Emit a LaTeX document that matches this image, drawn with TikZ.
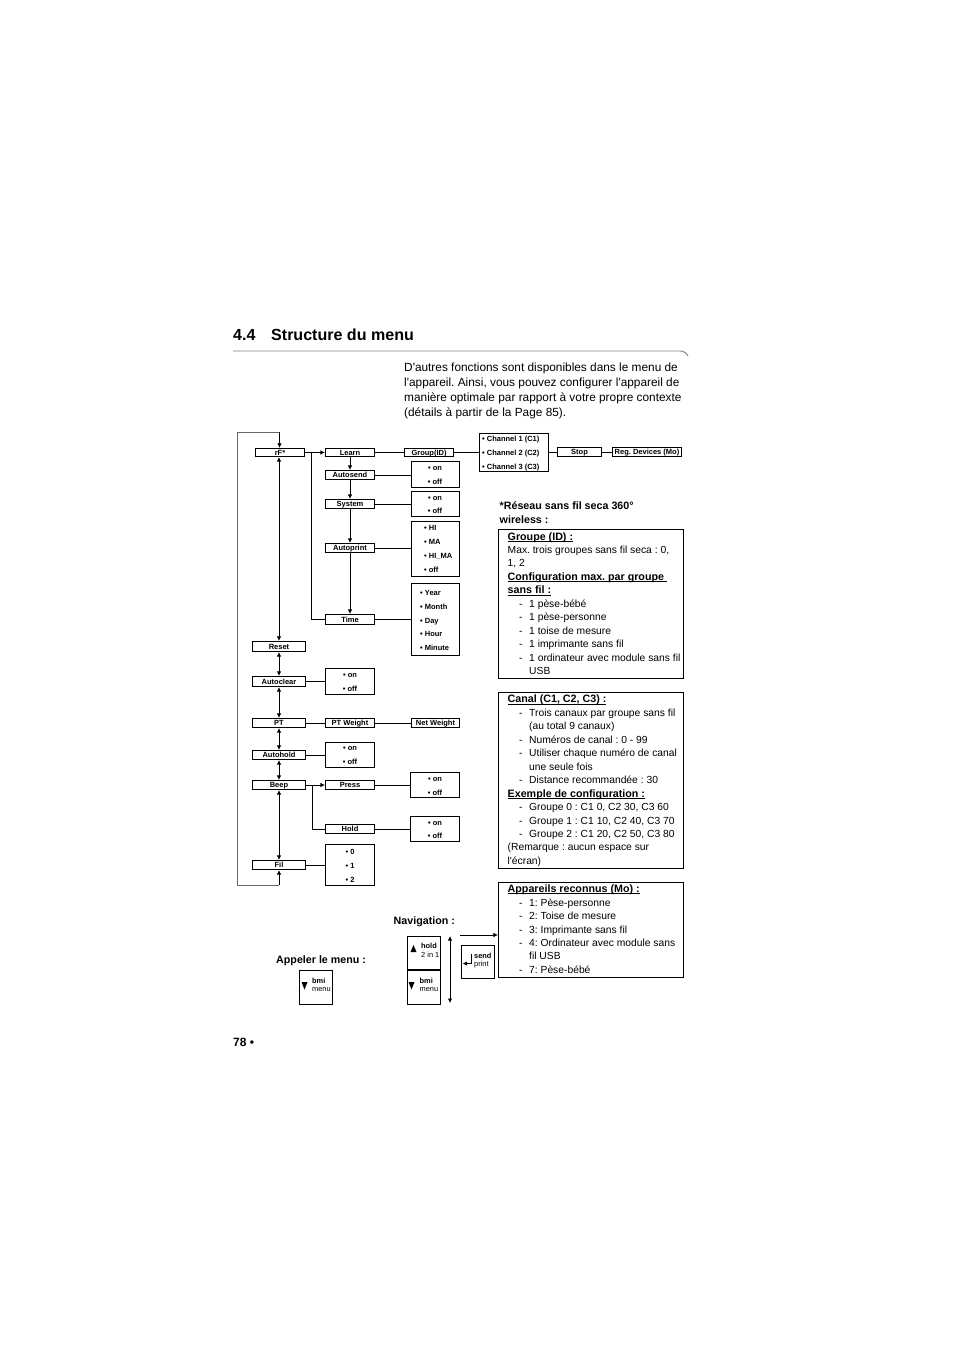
\documentclass[tikz,border=0pt]{standalone}
\usepackage{fontspec}
\setmainfont{Liberation Sans}[Ligatures=TeXOff]
\usetikzlibrary{arrows.meta}
\tikzset{
  x=1pt,y=-1pt,
  menubox/.style={draw,line width=0.9pt,inner sep=0pt,text height=5.6pt,text depth=0pt,font=\fontsize{7.5}{8}\selectfont\bfseries},
  listitem/.style={anchor=base,inner sep=0pt,font=\fontsize{7.5}{8}\selectfont\bfseries},
  link/.style={line width=0.8pt},
  arrowlink/.style={line width=0.8pt,-{Latex[length=4.5pt,width=4.5pt]}},
  bothlink/.style={line width=0.8pt,{Latex[length=4.5pt,width=4.5pt]}-{Latex[length=4.5pt,width=4.5pt]}},
  looplink/.style={line width=0.9pt,draw=black!60},
  frame/.style={draw,line width=0.9pt,inner sep=0pt},
  introtext/.style={anchor=base west,inner sep=0pt,font=\fontsize{11.85}{13}\selectfont},
  bodytext/.style={anchor=base west,inner sep=0pt,font=\fontsize{10.3}{13}\selectfont},
  boldtext/.style={anchor=base west,inner sep=0pt,font=\fontsize{10.7}{13}\selectfont\bfseries},
  keytop/.style={anchor=base west,inner sep=0pt,font=\fontsize{7.4}{8}\selectfont\bfseries},
  keybot/.style={anchor=base west,inner sep=0pt,font=\fontsize{7.4}{8}\selectfont},
  triangleup/.style={fill=black,draw=none},
}
\newcommand{\bx}[6]{\node[menubox,minimum width=#4-#3-0.8,minimum height=#6-#5-0.8] (#1) at ({(#3+#4)/2},{(#5+#6)/2}) {#2};}
\newcommand{\fr}[5]{\node[frame,minimum width=#3-#2-0.8,minimum height=#5-#4-0.8] (#1) at ({(#2+#3)/2},{(#4+#5)/2}) {};}
\newcommand{\li}[3]{\node[listitem] at (#1,#2) {• #3};}
\newcommand{\lw}[3]{\node[listitem,anchor=base west] at (#1,#2) {• #3};}
\newcommand{\intr}[3]{\node[introtext] at (#1,#2) {#3};}
\newcommand{\bt}[3]{\node[bodytext] at (#1,#2) {#3};}
\newcommand{\bo}[3]{\node[boldtext] at (#1,#2) {#3};}
\newcommand{\ulin}[3]{\node[boldtext] at (#1,#2) {\underline{\smash{#3}}};}
\begin{document}
\begin{tikzpicture}
\frenchspacing
\useasboundingbox (0,0) rectangle (954,1347);
\fill[white] (0,0) rectangle (954,1347);
% heading
\node[anchor=base west,inner sep=0pt,font=\fontsize{16.05}{18}\selectfont\bfseries] (headnum) at (233,340) {4.4};
\node[anchor=base west,inner sep=0pt,font=\fontsize{16.05}{18}\selectfont\bfseries] (headtxt) at (271,340) {Structure du menu};
\draw[line width=0.9pt,black!50] (233,351) -- (680,351) .. controls (684,351) and (686,353) .. (688,356);
\intr{404}{371.5}{D'autres fonctions sont disponibles dans le menu de}
\intr{404}{386.5}{l'appareil. Ainsi, vous pouvez configurer l'appareil de}
\intr{404}{401.5}{manière optimale par rapport à votre propre contexte}
\intr{404}{416.5}{(détails à partir de la Page 85).}
% main column
\bx{rf}{rF*}{255}{305}{448}{457}
\bx{reset}{Reset}{252}{306}{641}{652}
\bx{autoclear}{Autoclear}{252}{306}{676}{687}
\bx{pt}{PT}{252}{306}{718}{728}
\bx{autohold}{Autohold}{252}{306}{750}{760}
\bx{beep}{Beep}{252}{306}{780}{790}
\bx{fil}{Fil}{252}{306}{860}{870}
% second column
\bx{learn}{Learn}{325}{375}{448}{457}
\bx{autosend}{Autosend}{325}{375}{470}{480}
\bx{system}{System}{325}{375}{499}{509}
\bx{autoprint}{Autoprint}{325}{375}{543}{553}
\bx{time}{Time}{325}{375}{614}{625}
\bx{ptw}{PT Weight}{325}{375}{718}{728}
\bx{press}{Press}{325}{375}{780}{790}
\bx{hold}{Hold}{325}{375}{824}{834}
\bx{group}{Group(ID)}{404}{454}{448}{457}
\bx{netw}{Net Weight}{411}{460}{718}{728}
\bx{stop}{Stop}{557}{602}{447}{457}
\bx{reg}{Reg. Devices (Mo)}{612}{682}{447}{457}
% option boxes
\fr{chan}{479}{549}{433}{472}
\lw{482}{441}{Channel 1 (C1)}
\lw{482}{455}{Channel 2 (C2)}
\lw{482}{469}{Channel 3 (C3)}
\fr{o1}{411}{460}{461}{488}
\li{435}{470}{on}\li{435}{484}{off}
\fr{o2}{411}{460}{491}{517}
\li{435}{500}{on}\li{435}{513}{off}
\fr{o3}{411}{460}{521}{577}
\lw{424}{530}{HI}\lw{424}{544}{MA}\lw{424}{558}{HI\_MA}\lw{424}{572}{off}
\fr{o4}{411}{460}{583}{656}
\lw{420}{595}{Year}\lw{420}{609}{Month}\lw{420}{623}{Day}\lw{420}{636}{Hour}\lw{420}{650}{Minute}
\fr{o5}{325}{375}{668}{695}
\li{350}{677}{on}\li{350}{691}{off}
\fr{o6}{325}{375}{742}{768}
\li{350}{750}{on}\li{350}{764}{off}
\fr{o7}{410}{460}{772}{798}
\li{435}{781}{on}\li{435}{795}{off}
\fr{o8}{410}{460}{816}{842}
\li{435}{825}{on}\li{435}{838}{off}
\fr{o9}{325}{375}{844}{886}
\li{350}{854}{0}\li{350}{868}{1}\li{350}{882}{2}
% connectors
\draw[arrowlink] (rf) -- (learn);
\draw[link] (learn) -- (group);
\draw[link] (group) -- (chan);
\draw[link] (chan.east |- stop) -- (stop);
\draw[link] (stop) -- (reg);
\draw[arrowlink] (learn) -- (autosend);
\draw[arrowlink] (autosend) -- (system);
\draw[arrowlink] (system) -- (autoprint);
\draw[arrowlink] (autoprint) -- (time);
\draw[link] (autosend) -- (autosend -| o1.west);
\draw[link] (system) -- (system -| o2.west);
\draw[link] (autoprint) -- (autoprint -| o3.west);
\draw[link] (time) -- (time -| o4.west);
\coordinate (rfdrop) at (311,452.5);
\draw[link] (rfdrop) |- (time.west);
\draw[bothlink] (rf.south) ++(-1,0) coordinate (rfs) -- (rfs |- reset.north);
\draw[bothlink] (reset) -- (autoclear);
\draw[bothlink] (autoclear) -- (pt);
\draw[bothlink] (pt) -- (autohold);
\draw[bothlink] (autohold) -- (beep);
\draw[bothlink] (beep) -- (fil);
\draw[link] (autoclear) -- (autoclear -| o5.west);
\draw[link] (pt) -- (ptw);
\draw[link] (ptw) -- (netw);
\draw[link] (autohold) -- (autohold -| o6.west);
\draw[arrowlink] (beep) -- (press);
\coordinate (beepdrop) at (312,785);
\draw[link] (beepdrop) |- (hold.west);
\draw[link] (press) -- (press -| o7.west);
\draw[link] (hold) -- (hold -| o8.west);
\draw[link] (fil) -- (fil -| o9.west);
\coordinate (loopa) at (279,885);
\coordinate (loopb) at (237,885);
\coordinate (loopc) at (237,432);
\coordinate (loopd) at (279.5,432);
\draw[looplink] (loopa) -- (loopb) -- (loopc) -- (loopd);
\draw[arrowlink] (loopa) -- (fil.south -| loopa);
\draw[arrowlink] (loopd) -- (rf.north -| loopd);
% notes
\bo{499.5}{509}{*Réseau sans fil seca 360°}
\bo{499.5}{523}{wireless :}
\fr{n1}{498}{683.5}{529}{678.5}
\ulin{507.5}{540}{Groupe (ID) :}
\bt{507.5}{553}{Max. trois groupes sans fil seca : 0,}
\bt{507.5}{566.5}{1, 2}
\ulin{507.5}{580}{Configuration max. par groupe\ }
\ulin{507.5}{593.5}{sans fil :}
\bt{519}{607}{-}\bt{529}{607}{1 pèse-bébé}
\bt{519}{620}{-}\bt{529}{620}{1 pèse-personne}
\bt{519}{634}{-}\bt{529}{634}{1 toise de mesure}
\bt{519}{647}{-}\bt{529}{647}{1 imprimante sans fil}
\bt{519}{661}{-}\bt{529}{661}{1 ordinateur avec module sans fil}
\bt{529}{674}{USB}
\fr{n2}{498}{683.5}{692}{868.5}
\ulin{507.5}{702.5}{Canal (C1, C2, C3) :}
\bt{519}{716}{-}\bt{529}{716}{Trois canaux par groupe sans fil}
\bt{529}{729}{(au total 9 canaux)}
\bt{519}{743}{-}\bt{529}{743}{Numéros de canal : 0 - 99}
\bt{519}{756}{-}\bt{529}{756}{Utiliser chaque numéro de canal}
\bt{529}{770}{une seule fois}
\bt{519}{783}{-}\bt{529}{783}{Distance recommandée : 30}
\ulin{507.5}{797}{Exemple de configuration :}
\bt{519}{810}{-}\bt{529}{810}{Groupe 0 : C1 0, C2 30, C3 60}
\bt{519}{824}{-}\bt{529}{824}{Groupe 1 : C1 10, C2 40, C3 70}
\bt{519}{837}{-}\bt{529}{837}{Groupe 2 : C1 20, C2 50, C3 80}
\bt{507.5}{850}{(Remarque : aucun espace sur}
\bt{507.5}{864}{l'écran)}
\fr{n3}{498}{683.5}{882.5}{977.5}
\ulin{507.5}{892}{Appareils reconnus (Mo) :}
\bt{519}{906}{-}\bt{529}{906}{1: Pèse-personne}
\bt{519}{919}{-}\bt{529}{919}{2: Toise de mesure}
\bt{519}{933}{-}\bt{529}{933}{3: Imprimante sans fil}
\bt{519}{946}{-}\bt{529}{946}{4: Ordinateur avec module sans}
\bt{529}{959}{fil USB}
\bt{519}{973}{-}\bt{529}{973}{7: Pèse-bébé}
% keys
\bo{393.5}{924}{Navigation :}
\bo{276}{963}{Appeler le menu :}
\fr{k1}{299}{333}{970}{1005}
\fill[triangleup] (301.5,982) -- (307.5,982) -- (304.5,989.5) -- cycle;
\node[keytop] at (312,983) {bmi};
\node[keybot] at (312,991.5) {menu};
\fr{k2}{407}{441}{936}{970}
\fill[triangleup] (410.5,952) -- (416.5,952) -- (413.5,945) -- cycle;
\node[keytop] at (421,948) {hold};
\node[keybot] at (421,957) {2 in 1};
\fr{k3}{407}{441}{970}{1005}
\fill[triangleup] (408.5,982) -- (414.5,982) -- (411.5,989.5) -- cycle;
\node[keytop] at (419.5,983) {bmi};
\node[keybot] at (419.5,991.5) {menu};
\fr{k4}{461}{495}{945}{979}
\draw[line width=0.5pt] (471.5,954) -- (471.5,963.5) -- (465,963.5);
\fill[triangleup] (463,963.5) -- (467,961.5) -- (467,965.5) -- cycle;
\node[keytop] at (474,958) {send};
\node[keybot] at (474,966) {print};
\coordinate (navtop) at (450,936);
\coordinate (navbot) at (450,1003);
\draw[bothlink] (navtop) -- (navbot);
\coordinate (navstart) at (460,935);
\draw[arrowlink] (navstart) -- (navstart -| n3.west);
\node[boldtext,font=\fontsize{12}{13}\selectfont\bfseries] (pagenum) at (233,1046) {78 •};
\end{tikzpicture}
\end{document}
